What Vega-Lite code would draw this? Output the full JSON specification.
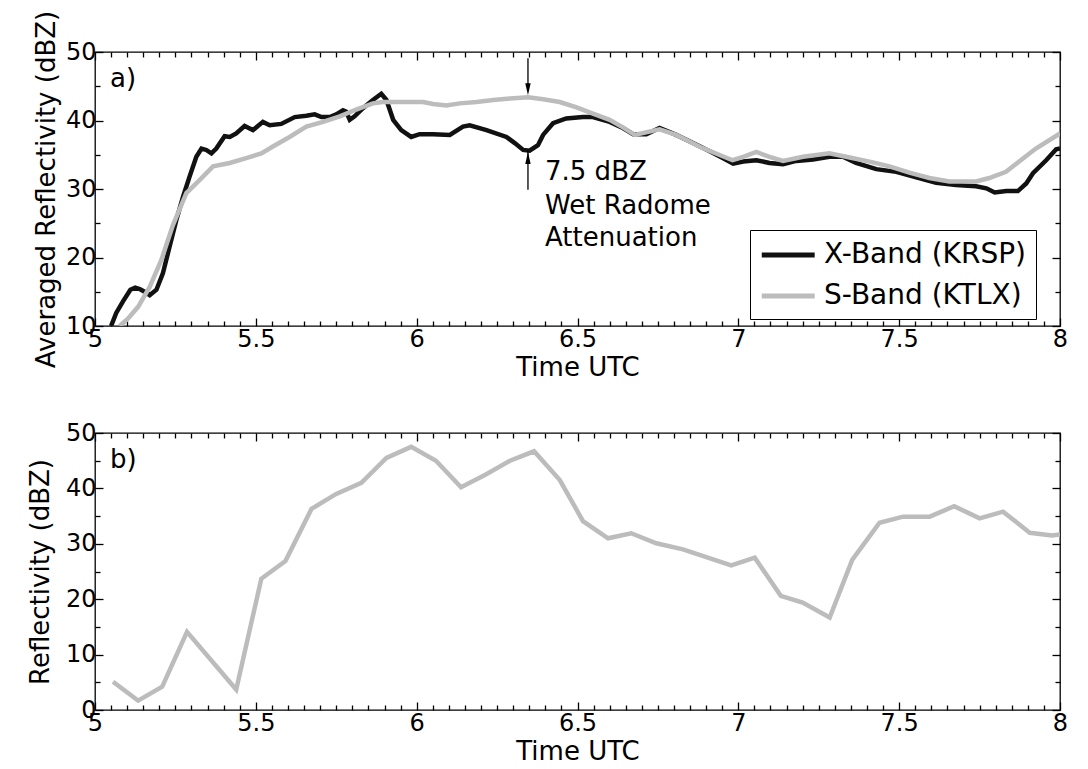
{
  "$schema": "https://vega.github.io/schema/vega-lite/v6.json",
  "padding": {"left": 27, "top": 9, "right": 0, "bottom": 0},
  "background": "white",
  "bounds": "flush",
  "spacing": 107,
  "config": {
    "font": "DejaVu Sans",
    "view": {"stroke": "black", "strokeWidth": 1.3},
    "axis": {
      "domain": false, "grid": false, "tickColor": "black", "tickWidth": 1.3,
      "labelFont": "DejaVu Sans", "labelFontSize": 24, "labelColor": "black",
      "labelFlush": false, "labelOverlap": false,
      "titleFont": "DejaVu Sans", "titleFontSize": 26, "titleFontWeight": "normal", "titleColor": "black"
    }
  },
  "datasets": {
    "xband": [
      {"t":5.050,"v":10.0},{"t":5.066,"v":11.9},{"t":5.087,"v":13.6},{"t":5.110,"v":15.3},{"t":5.125,"v":15.6},
      {"t":5.139,"v":15.4},{"t":5.154,"v":15.0},{"t":5.170,"v":14.5},{"t":5.191,"v":15.3},{"t":5.211,"v":17.7},
      {"t":5.232,"v":21.6},{"t":5.253,"v":25.5},{"t":5.274,"v":28.9},{"t":5.294,"v":31.8},{"t":5.315,"v":34.7},
      {"t":5.331,"v":35.9},{"t":5.346,"v":35.7},{"t":5.362,"v":35.2},{"t":5.377,"v":35.9},{"t":5.403,"v":37.7},
      {"t":5.419,"v":37.6},{"t":5.439,"v":38.1},{"t":5.465,"v":39.2},{"t":5.491,"v":38.6},{"t":5.522,"v":39.8},
      {"t":5.543,"v":39.3},{"t":5.579,"v":39.5},{"t":5.621,"v":40.5},{"t":5.657,"v":40.7},{"t":5.683,"v":40.9},
      {"t":5.704,"v":40.5},{"t":5.730,"v":40.5},{"t":5.750,"v":40.9},{"t":5.771,"v":41.5},{"t":5.781,"v":41.3},
      {"t":5.792,"v":40.1},{"t":5.807,"v":40.6},{"t":5.833,"v":41.8},{"t":5.864,"v":43.0},{"t":5.890,"v":43.9},
      {"t":5.906,"v":43.0},{"t":5.927,"v":40.1},{"t":5.952,"v":38.6},{"t":5.983,"v":37.6},{"t":6.009,"v":38.0},
      {"t":6.051,"v":38.0},{"t":6.103,"v":37.9},{"t":6.144,"v":39.1},{"t":6.165,"v":39.3},{"t":6.217,"v":38.6},
      {"t":6.279,"v":37.6},{"t":6.305,"v":36.7},{"t":6.331,"v":35.7},{"t":6.351,"v":35.6},{"t":6.377,"v":36.4},
      {"t":6.393,"v":37.9},{"t":6.424,"v":39.6},{"t":6.465,"v":40.3},{"t":6.517,"v":40.5},{"t":6.548,"v":40.5},
      {"t":6.600,"v":39.8},{"t":6.641,"v":38.9},{"t":6.673,"v":38.0},{"t":6.714,"v":38.0},{"t":6.755,"v":38.9},
      {"t":6.807,"v":37.9},{"t":6.859,"v":36.7},{"t":6.911,"v":35.5},{"t":6.953,"v":34.5},{"t":6.984,"v":33.7},
      {"t":7.015,"v":34.0},{"t":7.056,"v":34.2},{"t":7.097,"v":33.8},{"t":7.139,"v":33.6},{"t":7.180,"v":34.1},
      {"t":7.232,"v":34.3},{"t":7.283,"v":34.7},{"t":7.325,"v":34.7},{"t":7.366,"v":33.8},{"t":7.429,"v":32.9},
      {"t":7.491,"v":32.5},{"t":7.553,"v":31.7},{"t":7.615,"v":30.9},{"t":7.677,"v":30.6},{"t":7.739,"v":30.4},
      {"t":7.771,"v":30.1},{"t":7.797,"v":29.5},{"t":7.833,"v":29.7},{"t":7.869,"v":29.7},{"t":7.895,"v":30.8},
      {"t":7.916,"v":32.3},{"t":7.957,"v":34.2},{"t":7.988,"v":35.8},{"t":8.000,"v":35.9}
    ],
    "sband": [
      {"t":5.077,"v":10.0},{"t":5.103,"v":11.1},{"t":5.134,"v":12.8},{"t":5.170,"v":15.7},{"t":5.206,"v":19.6},
      {"t":5.242,"v":24.7},{"t":5.284,"v":29.4},{"t":5.325,"v":31.3},{"t":5.367,"v":33.3},{"t":5.419,"v":33.8},
      {"t":5.470,"v":34.5},{"t":5.517,"v":35.2},{"t":5.553,"v":36.2},{"t":5.605,"v":37.6},{"t":5.657,"v":39.1},
      {"t":5.709,"v":39.8},{"t":5.761,"v":40.6},{"t":5.812,"v":41.6},{"t":5.864,"v":42.5},{"t":5.895,"v":42.7},
      {"t":5.968,"v":42.7},{"t":6.020,"v":42.7},{"t":6.051,"v":42.4},{"t":6.092,"v":42.2},{"t":6.134,"v":42.5},
      {"t":6.186,"v":42.7},{"t":6.238,"v":43.0},{"t":6.290,"v":43.2},{"t":6.347,"v":43.4},{"t":6.393,"v":43.1},
      {"t":6.445,"v":42.7},{"t":6.497,"v":41.9},{"t":6.548,"v":41.0},{"t":6.600,"v":40.1},{"t":6.641,"v":39.0},
      {"t":6.678,"v":37.9},{"t":6.755,"v":38.7},{"t":6.807,"v":37.9},{"t":6.888,"v":36.0},{"t":6.940,"v":35.0},
      {"t":6.982,"v":34.2},{"t":7.015,"v":34.7},{"t":7.056,"v":35.4},{"t":7.097,"v":34.7},{"t":7.139,"v":34.1},
      {"t":7.201,"v":34.7},{"t":7.283,"v":35.2},{"t":7.346,"v":34.6},{"t":7.408,"v":34.0},{"t":7.470,"v":33.3},
      {"t":7.532,"v":32.4},{"t":7.594,"v":31.6},{"t":7.656,"v":31.1},{"t":7.739,"v":31.1},{"t":7.780,"v":31.6},
      {"t":7.832,"v":32.5},{"t":7.873,"v":34.0},{"t":7.925,"v":35.9},{"t":8.000,"v":38.1}
    ],
    "bottom": [
      {"t":5.056,"v":5.1},{"t":5.134,"v":1.7},{"t":5.209,"v":4.2},{"t":5.286,"v":14.1},{"t":5.439,"v":3.7},
      {"t":5.517,"v":23.7},{"t":5.592,"v":26.9},{"t":5.673,"v":36.3},{"t":5.750,"v":39.0},{"t":5.828,"v":41.0},
      {"t":5.906,"v":45.5},{"t":5.983,"v":47.5},{"t":6.060,"v":45.0},{"t":6.138,"v":40.2},{"t":6.215,"v":42.5},
      {"t":6.290,"v":45.0},{"t":6.365,"v":46.7},{"t":6.445,"v":41.5},{"t":6.517,"v":34.1},{"t":6.595,"v":31.0},
      {"t":6.667,"v":31.9},{"t":6.745,"v":30.1},{"t":6.828,"v":29.0},{"t":6.978,"v":26.1},{"t":7.051,"v":27.5},
      {"t":7.132,"v":20.6},{"t":7.200,"v":19.4},{"t":7.284,"v":16.7},{"t":7.354,"v":27.1},{"t":7.439,"v":33.8},
      {"t":7.512,"v":34.9},{"t":7.595,"v":34.9},{"t":7.671,"v":36.8},{"t":7.750,"v":34.6},{"t":7.823,"v":35.8},
      {"t":7.906,"v":32.0},{"t":7.975,"v":31.5},{"t":8.000,"v":31.7}
    ]
  },
  "vconcat": [
    {
      "width": 965,
      "height": 274,
      "layer": [
        {
          "data": {"name": "xband"},
          "mark": {"type": "line", "strokeWidth": 4.5, "clip": true},
          "encoding": {
            "x": {"field": "t", "type": "quantitative", "scale": {"domain": [5, 8], "nice": false, "zero": false},
              "axis": {"orient": "bottom", "title": "Time UTC", "titlePadding": 0, "labelPadding": 9,
                "values": [5,5.05,5.1,5.15,5.2,5.25,5.3,5.35,5.4,5.45,5.5,5.55,5.6,5.65,5.7,5.75,5.8,5.85,5.9,5.95,6,6.05,6.1,6.15,6.2,6.25,6.3,6.35,6.4,6.45,6.5,6.55,6.6,6.65,6.7,6.75,6.8,6.85,6.9,6.95,7,7.05,7.1,7.15,7.2,7.25,7.3,7.35,7.4,7.45,7.5,7.55,7.6,7.65,7.7,7.75,7.8,7.85,7.9,7.95,8],
                "labelExpr": "abs(datum.value*2 - round(datum.value*2)) < 0.001 ? toString(round(datum.value*10)/10) : ''",
                "tickSize": {"condition": {"test": "abs(datum.value*2 - round(datum.value*2)) < 0.001", "value": -8}, "value": -5}}},
            "y": {"field": "v", "type": "quantitative", "scale": {"domain": [10, 50], "nice": false, "zero": false},
              "axis": {"orient": "left", "title": "Averaged Reflectivity (dBZ)", "titlePadding": 5.5, "labelPadding": 7,
                "values": [10,15,20,25,30,35,40,45,50],
                "labelExpr": "datum.value % 10 == 0 ? toString(datum.value) : ''",
                "tickSize": {"condition": {"test": "datum.value % 10 == 0", "value": -8}, "value": -5}}},
            "color": {"datum": "X-Band (KRSP)", "type": "nominal",
              "scale": {"domain": ["X-Band (KRSP)", "S-Band (KTLX)"], "range": ["#111111", "#bcbcbc"]},
              "legend": {"orient": "none", "legendX": 655, "legendY": 178, "title": null,
                "symbolType": "M-1,0L3,0", "symbolSize": 700, "symbolStrokeWidth": 5,
                "labelFont": "DejaVu Sans", "labelFontSize": 28, "labelColor": "black", "labelOffset": 33, "labelLimit": 400,
                "strokeColor": "black", "fillColor": "white", "padding": 9, "rowPadding": 11, "cornerRadius": 0}}
          }
        },
        {
          "data": {"name": "sband"},
          "mark": {"type": "line", "strokeWidth": 4.5, "clip": true},
          "encoding": {
            "x": {"field": "t", "type": "quantitative", "scale": {"domain": [5, 8], "nice": false, "zero": false},
              "axis": {"orient": "top", "title": null, "labels": false,
                "values": [5,5.05,5.1,5.15,5.2,5.25,5.3,5.35,5.4,5.45,5.5,5.55,5.6,5.65,5.7,5.75,5.8,5.85,5.9,5.95,6,6.05,6.1,6.15,6.2,6.25,6.3,6.35,6.4,6.45,6.5,6.55,6.6,6.65,6.7,6.75,6.8,6.85,6.9,6.95,7,7.05,7.1,7.15,7.2,7.25,7.3,7.35,7.4,7.45,7.5,7.55,7.6,7.65,7.7,7.75,7.8,7.85,7.9,7.95,8],
                "tickSize": {"condition": {"test": "abs(datum.value*2 - round(datum.value*2)) < 0.001", "value": -8}, "value": -5}}},
            "y": {"field": "v", "type": "quantitative", "scale": {"domain": [10, 50], "nice": false, "zero": false},
              "axis": {"orient": "right", "title": null, "labels": false,
                "values": [10,15,20,25,30,35,40,45,50],
                "tickSize": {"condition": {"test": "datum.value % 10 == 0", "value": -8}, "value": -5}}},
            "color": {"datum": "S-Band (KTLX)", "type": "nominal"}
          }
        },
        {
          "data": {"values": [{"t": 6.346, "v": 49.1, "v2": 44.3}, {"t": 6.346, "v": 29.9, "v2": 35.6}]},
          "mark": {"type": "rule", "color": "black", "strokeWidth": 1.3},
          "encoding": {
            "x": {"field": "t", "type": "quantitative", "axis": null},
            "y": {"field": "v", "type": "quantitative", "axis": null},
            "y2": {"field": "v2"}
          }
        },
        {
          "data": {"values": [{"t": 6.346, "v": 44.58}]},
          "mark": {"type": "point", "shape": "M0,1L-0.45,-1L0.45,-1Z", "size": 144, "filled": true, "color": "black", "opacity": 1},
          "encoding": {
            "x": {"field": "t", "type": "quantitative", "axis": null},
            "y": {"field": "v", "type": "quantitative", "axis": null}
          }
        },
        {
          "data": {"values": [{"t": 6.346, "v": 34.52}]},
          "mark": {"type": "point", "shape": "M0,-1L-0.45,1L0.45,1Z", "size": 144, "filled": true, "color": "black", "opacity": 1},
          "encoding": {
            "x": {"field": "t", "type": "quantitative", "axis": null},
            "y": {"field": "v", "type": "quantitative", "axis": null}
          }
        },
        {
          "data": {"values": [
            {"t": 6.399, "v": 32.5, "label": "7.5 dBZ"},
            {"t": 6.399, "v": 27.5, "label": "Wet Radome"},
            {"t": 6.399, "v": 22.85, "label": "Attenuation"},
            {"t": 5.047, "v": 46.1, "label": "a)"}
          ]},
          "mark": {"type": "text", "align": "left", "baseline": "middle", "fontSize": 26, "font": "DejaVu Sans", "color": "black"},
          "encoding": {
            "x": {"field": "t", "type": "quantitative", "axis": null},
            "y": {"field": "v", "type": "quantitative", "axis": null},
            "text": {"field": "label"}
          }
        }
      ],
      "resolve": {"axis": {"x": "independent", "y": "independent"}}
    },
    {
      "width": 965,
      "height": 277,
      "layer": [
        {
          "data": {"name": "bottom"},
          "mark": {"type": "line", "strokeWidth": 4.5, "color": "#bcbcbc", "clip": true},
          "encoding": {
            "x": {"field": "t", "type": "quantitative", "scale": {"domain": [5, 8], "nice": false, "zero": false},
              "axis": {"orient": "bottom", "title": "Time UTC", "titlePadding": 0, "labelPadding": 9,
                "values": [5,5.05,5.1,5.15,5.2,5.25,5.3,5.35,5.4,5.45,5.5,5.55,5.6,5.65,5.7,5.75,5.8,5.85,5.9,5.95,6,6.05,6.1,6.15,6.2,6.25,6.3,6.35,6.4,6.45,6.5,6.55,6.6,6.65,6.7,6.75,6.8,6.85,6.9,6.95,7,7.05,7.1,7.15,7.2,7.25,7.3,7.35,7.4,7.45,7.5,7.55,7.6,7.65,7.7,7.75,7.8,7.85,7.9,7.95,8],
                "labelExpr": "abs(datum.value*2 - round(datum.value*2)) < 0.001 ? toString(round(datum.value*10)/10) : ''",
                "tickSize": {"condition": {"test": "abs(datum.value*2 - round(datum.value*2)) < 0.001", "value": -8}, "value": -5}}},
            "y": {"field": "v", "type": "quantitative", "scale": {"domain": [0, 50], "nice": false, "zero": false},
              "axis": {"orient": "left", "title": "Reflectivity (dBZ)", "titlePadding": 11.5, "labelPadding": 7,
                "values": [0,5,10,15,20,25,30,35,40,45,50],
                "labelExpr": "datum.value % 10 == 0 ? toString(datum.value) : ''",
                "tickSize": {"condition": {"test": "datum.value % 10 == 0", "value": -8}, "value": -5}}}
          }
        },
        {
          "data": {"values": [{"t": 5.047, "v": 45.1, "label": "b)"}]},
          "mark": {"type": "text", "align": "left", "baseline": "middle", "fontSize": 26, "font": "DejaVu Sans", "color": "black"},
          "encoding": {
            "x": {"field": "t", "type": "quantitative", "scale": {"domain": [5, 8], "nice": false, "zero": false},
              "axis": {"orient": "top", "title": null, "labels": false,
                "values": [5,5.05,5.1,5.15,5.2,5.25,5.3,5.35,5.4,5.45,5.5,5.55,5.6,5.65,5.7,5.75,5.8,5.85,5.9,5.95,6,6.05,6.1,6.15,6.2,6.25,6.3,6.35,6.4,6.45,6.5,6.55,6.6,6.65,6.7,6.75,6.8,6.85,6.9,6.95,7,7.05,7.1,7.15,7.2,7.25,7.3,7.35,7.4,7.45,7.5,7.55,7.6,7.65,7.7,7.75,7.8,7.85,7.9,7.95,8],
                "tickSize": {"condition": {"test": "abs(datum.value*2 - round(datum.value*2)) < 0.001", "value": -8}, "value": -5}}},
            "y": {"field": "v", "type": "quantitative", "scale": {"domain": [0, 50], "nice": false, "zero": false},
              "axis": {"orient": "right", "title": null, "labels": false,
                "values": [0,5,10,15,20,25,30,35,40,45,50],
                "tickSize": {"condition": {"test": "datum.value % 10 == 0", "value": -8}, "value": -5}}},
            "text": {"field": "label"}
          }
        }
      ],
      "resolve": {"axis": {"x": "independent", "y": "independent"}}
    }
  ]
}
